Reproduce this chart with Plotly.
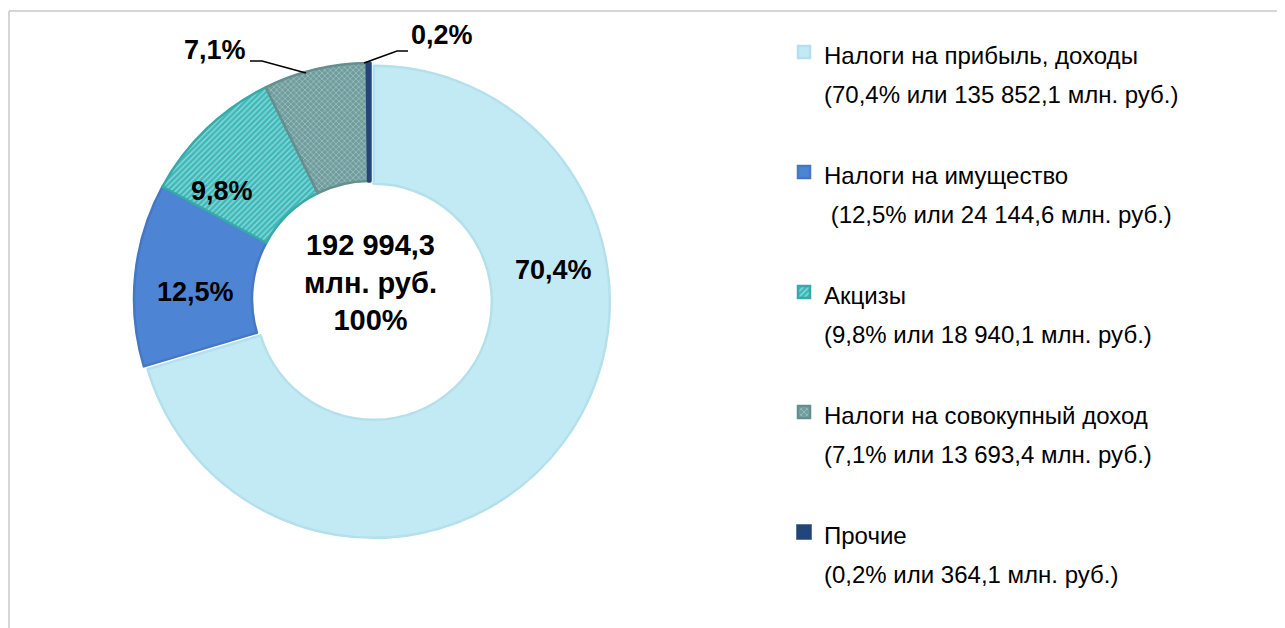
import plotly.graph_objects as go

W, H = 1285, 628
OFF = 8  # default page body margin in the written html

categories = [
    "Налоги на прибыль, доходы",
    "Налоги на имущество",
    "Акцизы",
    "Налоги на совокупный доход",
    "Прочие",
]
values = [135852.1, 24144.6, 18940.1, 13693.4, 364.1]
total_label = "192 994,3"
colors = ["#C2EAF4", "#4E84D4", "#3DB9B9", "#6F9C9C", "#23467A"]
edge_colors = ["#B4E0EC", "#4478C4", "#36AAAA", "#658F8F", "#23467A"]
pattern_shapes = ["", "", "/", "x", ""]
pattern_fg = ["#ffffff", "#ffffff", "#E6F7F7", "#D6E4E4", "#ffffff"]
second_line_indent = ["", "\u00a0", "", "", ""]


def fmt_num(v):
    return f"{v:,.1f}".replace(",", " ").replace(".", ",")


total = sum(values)
pcts = [v / total * 100 for v in values]
pct_txt = [f"{p:.1f}".replace(".", ",") + "%" for p in pcts]

legend_labels = [
    f"<span style='font-size:24px'>{c}<br>{ind}({pt} или {fmt_num(v)} млн. руб.)<br> </span>"
    for c, ind, pt, v in zip(categories, second_line_indent, pct_txt, values)
]


def px(x):
    return (x - OFF) / W


def py(y):
    return 1 - (y - OFF) / H


cx, cy, r = 370, 299, 236
pull = [0.02, 0, 0, 0, 0]
half = r * (1 + max(pull))

fig = go.Figure(
    go.Pie(
        labels=legend_labels,
        values=values,
        sort=False,
        direction="clockwise",
        rotation=0,
        hole=0.5,
        pull=pull,
        textinfo="none",
        hoverinfo="label+value",
        marker=dict(
            colors=colors,
            line=dict(color=edge_colors, width=[2.5, 2.5, 2.5, 2.5, 3.5]),
            pattern=dict(
                shape=pattern_shapes,
                fgcolor=pattern_fg,
                fillmode="overlay",
                size=4,
                solidity=0.35,
            ),
        ),
        domain=dict(
            x=[px(cx - half), px(cx + half)],
            y=[py(cy + half), py(cy - half)],
        ),
    )
)

label_font = dict(family="Liberation Sans, Arial, sans-serif", size=27, color="#000000")
label_pos = [(553, 270), (195, 292), (222, 191), (215, 50), (442, 35)]
annotations = []
for txt, (x, y) in zip(pct_txt, label_pos):
    annotations.append(
        dict(
            x=px(x), y=py(y), xref="paper", yref="paper",
            text=f"<b>{txt}</b>", showarrow=False, font=label_font,
            xanchor="center", yanchor="middle",
        )
    )
annotations.append(
    dict(
        x=px(370), y=py(282), xref="paper", yref="paper",
        text=f"<b>{total_label}<br>млн. руб.<br>100%</b>",
        showarrow=False,
        font=dict(family="Liberation Sans, Arial, sans-serif", size=29, color="#000000"),
        xanchor="center", yanchor="middle", align="center",
    )
)

shapes = [
    # chart frame
    dict(type="line", xref="paper", yref="paper", x0=px(9), y0=py(11), x1=1.05, y1=py(11),
         line=dict(color="#C8C8C8", width=1.5)),
    dict(type="line", xref="paper", yref="paper", x0=px(9), y0=py(11), x1=px(9), y1=-0.05,
         line=dict(color="#C8C8C8", width=1.5)),
    # leader lines
    dict(type="path", xref="paper", yref="paper",
         path=f"M {px(250)} {py(61)} L {px(262)} {py(61)} L {px(306)} {py(73)}",
         line=dict(color="#000000", width=1.5)),
    dict(type="path", xref="paper", yref="paper",
         path=f"M {px(408)} {py(51)} L {px(397)} {py(51)} L {px(364)} {py(63)}",
         line=dict(color="#000000", width=1.5)),
]

fig.update_layout(
    width=W,
    height=H,
    margin=dict(l=0, r=0, t=0, b=0),
    paper_bgcolor="#ffffff",
    plot_bgcolor="#ffffff",
    showlegend=True,
    legend=dict(
        x=px(784), y=py(31), xanchor="left", yanchor="top",
        font=dict(family="Liberation Sans, Arial, sans-serif", size=30, color="#000000"),
        valign="top",
        bgcolor="rgba(0,0,0,0)",
        traceorder="normal",
    ),
    annotations=annotations,
    shapes=shapes,
)

fig.write_html("out.html")
